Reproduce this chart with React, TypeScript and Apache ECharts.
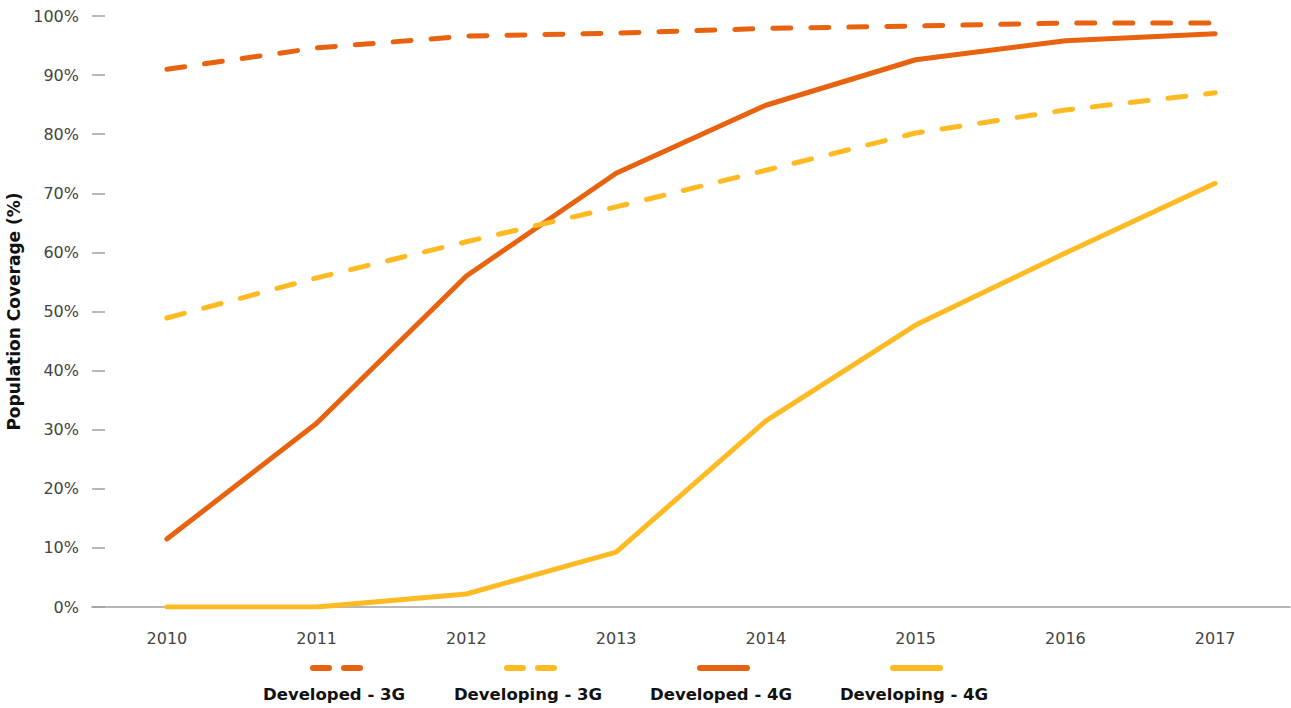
import React, { useEffect, useRef } from "react";
import * as echarts from "echarts";

const years = ["2010", "2011", "2012", "2013", "2014", "2015", "2016", "2017"];
const seriesNames = ["Developed - 3G", "Developing - 3G", "Developed - 4G", "Developing - 4G"];
const developed3G = [91.0, 94.6, 96.6, 97.1, 97.9, 98.3, 98.8, 98.8];
const developing3G = [48.9, 55.7, 61.8, 67.7, 73.9, 80.2, 84.1, 87.0];
const developed4G = [11.5, 31.1, 56.0, 73.4, 84.9, 92.6, 95.8, 97.0];
const developing4G = [0, 0, 2.2, 9.3, 31.5, 47.7, 59.9, 71.7];
const yTicks = [0, 10, 20, 30, 40, 50, 60, 70, 80, 90, 100];

const ORANGE = "#E8630F";
const YELLOW = "#FDBA22";

export default function App() {
  const ref = useRef<HTMLDivElement>(null);
  useEffect(() => {
    if (!ref.current) return;
    document.body.style.margin = "0";
    const chart = echarts.init(ref.current, null, { renderer: "svg" });
    const font = "'DejaVu Sans', sans-serif";
    const colors = [ORANGE, YELLOW, ORANGE, YELLOW];
    const dashed = [true, true, false, false];
    const data = [developed3G, developing3G, developed4G, developing4G];
    const legendCenters = [336, 530, 723, 916];
    const graphics: any[] = [];
    seriesNames.forEach((name, i) => {
      const cx = legendCenters[i];
      if (dashed[i]) {
        graphics.push({
          type: "line",
          shape: { x1: cx - 23, y1: 668, x2: cx - 7, y2: 668 },
          style: { stroke: colors[i], lineWidth: 6, lineCap: "round" },
        });
        graphics.push({
          type: "line",
          shape: { x1: cx + 8, y1: 668, x2: cx + 24, y2: 668 },
          style: { stroke: colors[i], lineWidth: 6, lineCap: "round" },
        });
      } else {
        graphics.push({
          type: "line",
          shape: { x1: cx - 23, y1: 668, x2: cx + 24, y2: 668 },
          style: { stroke: colors[i], lineWidth: 6, lineCap: "round" },
        });
      }
      graphics.push({
        type: "text",
        x: cx - 2,
        y: 694,
        style: {
          text: name,
          fill: "#111",
          font: `bold 16.5px ${font}`,
          textAlign: "center",
          textVerticalAlign: "middle",
        },
      });
    });

    chart.setOption({
      animation: false,
      grid: { left: 92, right: 1, top: 16, bottom: 101, containLabel: false, outerBoundsMode: "none" },
      xAxis: {
        type: "category",
        data: years,
        boundaryGap: true,
        axisLine: { show: true, lineStyle: { color: "#A0A0A0", width: 1.5 } },
        axisTick: { show: false },
        axisLabel: { color: "#444", fontSize: 16, fontFamily: font, margin: 23 },
      },
      yAxis: {
        type: "value",
        min: 0,
        max: 100,
        interval: 10,
        name: "Population Coverage (%)",
        nameLocation: "middle",
        nameGap: 69,
        nameRotate: 90,
        nameTextStyle: { color: "#111", fontSize: 17, fontWeight: "bold", fontFamily: font },
        axisLine: { show: false },
        axisTick: { show: true, inside: true, length: 13, lineStyle: { color: "#A0A0A0", width: 1.5 } },
        splitLine: { show: false },
        axisLabel: {
          color: "#444",
          fontSize: 16,
          fontFamily: font,
          margin: 13,
          formatter: (v: number) => (yTicks.includes(v) ? `${v}%` : ""),
        },
      },
      series: seriesNames.map((name, i) => ({
        name,
        type: "line",
        data: data[i],
        symbol: "none",
        z: 4 - i,
        lineStyle: {
          color: colors[i],
          width: 5,
          type: dashed[i] ? [18, 20] : "solid",
          cap: "round",
          join: "round",
        },
      })),
      graphic: graphics,
    });
    return () => chart.dispose();
  }, []);
  return <div ref={ref} style={{ width: 1291, height: 708 }} />;
}
